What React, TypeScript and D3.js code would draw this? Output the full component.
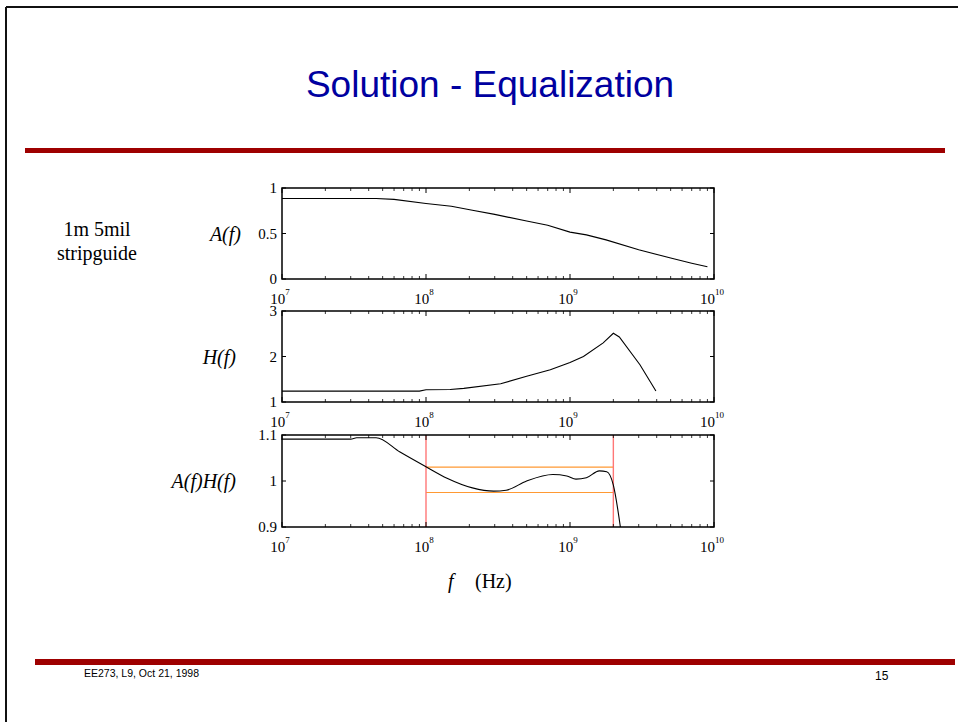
import React from "react";
import * as d3 from "d3";

// ---- data ----
const decadeTicks = [1e7, 1e8, 1e9, 1e10];
const decadeExponents = ["7", "8", "9", "10"];

const aFreq = [1e7, 2e7, 4.5e7, 6e7, 1e8, 1.5e8, 2.1e8, 3e8, 5e8, 7e8, 1e9, 1.3e9, 1.78e9, 3e9, 5e9, 7e9, 9e9];
const aVals = [0.885, 0.885, 0.885, 0.875, 0.83, 0.8, 0.755, 0.71, 0.637, 0.59, 0.515, 0.485, 0.43, 0.322, 0.23, 0.174, 0.135];

const hFreq = [1e7, 9e7, 1e8, 1.47e8, 1.83e8, 3.3e8, 5e8, 7.3e8, 1e9, 1.24e9, 1.7e9, 2e9, 2.2e9, 3.06e9, 3.95e9];
const hVals = [1.24, 1.24, 1.27, 1.275, 1.3, 1.4, 1.565, 1.71, 1.87, 2.0, 2.3, 2.51, 2.43, 1.82, 1.24];

const ahFreq = [1e7, 3e7, 3.3e7, 4.5e7, 6.6e7, 1e8, 1.4e8, 2.1e8, 2.95e8, 3.6e8, 5e8, 7.6e8, 9.5e8, 1.1e9, 1.3e9, 1.6e9, 1.8e9, 2.0e9, 2.25e9];
const ahVals = [1.091, 1.091, 1.094, 1.094, 1.063, 1.031, 1.006, 0.985, 0.978, 0.98, 1.0, 1.014, 1.011, 1.004, 1.007, 1.022, 1.02, 0.991, 0.895];

const bandFreq = [1e8, 2e9];
const bandLevels = [0.975, 1.03];

const aTicks = [0, 0.5, 1];
const aTickLabels = ["0", "0.5", "1"];
const hTicks = [1, 2, 3];
const hTickLabels = ["1", "2", "3"];
const ahTicks = [0.9, 1, 1.1];
const ahTickLabels = ["0.9", "1", "1.1"];

const serif = "'Liberation Serif', 'Times New Roman', serif";
const sans = "'Liberation Sans', Arial, sans-serif";

const x = d3.scaleLog().domain([1e7, 1e10]).range([282, 714]);
const minorTicks: number[] = [];
for (let d = 1e7; d < 1e10; d *= 10) for (let k = 2; k <= 9; k++) minorTicks.push(d * k);

type PanelProps = {
  top: number;
  bottom: number;
  domain: [number, number];
  ticks: number[];
  tickLabels: string[];
  freq: number[];
  vals: number[];
  curve: any;
  label: string;
  labelX: number;
  id: string;
  children?: (y: d3.ScaleLinear<number, number>) => React.ReactNode;
};

function Panel(p: PanelProps) {
  const y = d3.scaleLinear().domain(p.domain).range([p.bottom, p.top]);
  const [x0, x1] = x.range();
  const line = d3
    .line<number>()
    .x((_, i) => x(p.freq[i]))
    .y((v) => y(v))
    .curve(p.curve);
  return (
    <g>
      <defs>
        <clipPath id={p.id}>
          <rect x={x0} y={p.top} width={x1 - x0} height={p.bottom - p.top} />
        </clipPath>
      </defs>
      {p.children && <g clipPath={`url(#${p.id})`}>{p.children(y)}</g>}
      <path d={line(p.vals) || ""} fill="none" stroke="#000" strokeWidth={1.1} clipPath={`url(#${p.id})`} />
      <rect x={x0} y={p.top} width={x1 - x0} height={p.bottom - p.top} fill="none" stroke="#000" strokeWidth={1.5} />
      {minorTicks.map((t, i) => (
        <g key={"m" + i} stroke="#000" strokeWidth={0.8}>
          <line x1={x(t)} x2={x(t)} y1={p.bottom} y2={p.bottom - 3} />
          <line x1={x(t)} x2={x(t)} y1={p.top} y2={p.top + 3} />
        </g>
      ))}
      {decadeTicks.map((t, i) => (
        <g key={"d" + i}>
          <line x1={x(t)} x2={x(t)} y1={p.bottom} y2={p.bottom - 5} stroke="#000" />
          <line x1={x(t)} x2={x(t)} y1={p.top} y2={p.top + 5} stroke="#000" />
          <text x={x(t) - 2} y={p.bottom + 25} fontFamily={serif} fontSize={15} textAnchor="middle">
            10
            <tspan fontSize={9} dy={-9}>{decadeExponents[i]}</tspan>
          </text>
        </g>
      ))}
      {p.ticks.map((t, i) => (
        <g key={"y" + i}>
          <line x1={x0} x2={x0 + 4} y1={y(t)} y2={y(t)} stroke="#000" />
          <line x1={x1} x2={x1 - 4} y1={y(t)} y2={y(t)} stroke="#000" />
          <text x={x0 - 5} y={y(t) + 5} fontFamily={serif} fontSize={15} textAnchor="end">
            {p.tickLabels[i]}
          </text>
        </g>
      ))}
      <text
        x={p.labelX}
        y={(p.top + p.bottom) / 2 + 7}
        fontFamily={serif}
        fontSize={20}
        fontStyle="italic"
        textAnchor="end"
      >
        {p.label}
      </text>
    </g>
  );
}

export default function App() {
  return (
    <svg
      width={958}
      height={722}
      style={{ position: "absolute", left: 0, top: 0, background: "#fff" }}
    >
      <rect x={0} y={0} width={958} height={722} fill="#fff" />
      {/* frame */}
      <line x1={6} y1={7} x2={958} y2={7} stroke="#111" strokeWidth={2} />
      <line x1={6} y1={7} x2={6} y2={722} stroke="#111" strokeWidth={2} />
      {/* title */}
      <text x={490} y={97} fontFamily={sans} fontSize={37} fill="#0000a0" textAnchor="middle">
        Solution - Equalization
      </text>
      <rect x={25} y={148} width={920} height={5} fill="#9e0000" />
      <rect x={35} y={659} width={920} height={6} fill="#9e0000" />
      <text x={84} y={677} fontFamily={sans} fontSize={10.5} fill="#000">
        EE273, L9, Oct 21, 1998
      </text>
      <text x={875} y={680} fontFamily={sans} fontSize={12} fill="#000">
        15
      </text>
      {/* side label */}
      <text x={97} y={236} fontFamily={serif} fontSize={20} textAnchor="middle">1m 5mil</text>
      <text x={97} y={260} fontFamily={serif} fontSize={20} textAnchor="middle">stripguide</text>

      <Panel
        id="c1"
        top={188}
        bottom={279}
        domain={[0, 1]}
        ticks={aTicks}
        tickLabels={aTickLabels}
        freq={aFreq}
        vals={aVals}
        curve={d3.curveLinear}
        label="A(f)"
        labelX={241}
      />
      <Panel
        id="c2"
        top={311}
        bottom={402}
        domain={[1, 3]}
        ticks={hTicks}
        tickLabels={hTickLabels}
        freq={hFreq}
        vals={hVals}
        curve={d3.curveLinear}
        label="H(f)"
        labelX={236}
      />
      <Panel
        id="c3"
        top={435}
        bottom={527}
        domain={[0.9, 1.1]}
        ticks={ahTicks}
        tickLabels={ahTickLabels}
        freq={ahFreq}
        vals={ahVals}
        curve={d3.curveMonotoneX}
        label="A(f)H(f)"
        labelX={236}
      >
        {(y) => (
          <g>
            {bandLevels.map((lv, i) => (
              <line
                key={"h" + i}
                x1={x(bandFreq[0])}
                x2={x(bandFreq[1])}
                y1={y(lv)}
                y2={y(lv)}
                stroke="#ff9933"
                strokeWidth={1.2}
              />
            ))}
            {bandFreq.map((f, i) => (
              <line
                key={"v" + i}
                x1={x(f)}
                x2={x(f)}
                y1={y(1.1)}
                y2={y(0.9)}
                stroke="#ff7777"
                strokeWidth={1.4}
              />
            ))}
          </g>
        )}
      </Panel>

      <text x={448} y={588} fontFamily={serif} fontSize={20} fontStyle="italic">f</text>
      <text x={475} y={588} fontFamily={serif} fontSize={20}>(Hz)</text>
    </svg>
  );
}
